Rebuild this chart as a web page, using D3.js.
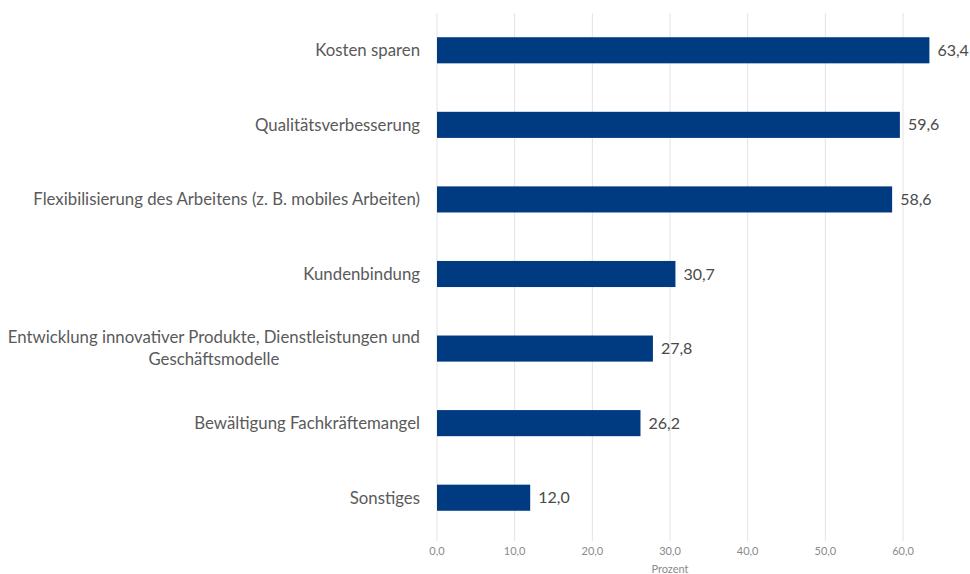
<!DOCTYPE html>
<html>
<head>
<meta charset="utf-8">
<script src="https://cdn.jsdelivr.net/npm/d3@7"></script>
<style>
  body { margin: 0; background: #fff; }
  text { font-family: Lato, "Open Sans", sans-serif; }
</style>
</head>
<body>
<script>
(function() {

    // Gründe / Ziele, Anteil in Prozent
    var categories = [
        "Kosten sparen",
        "Qualitätsverbesserung",
        "Flexibilisierung des Arbeitens (z. B. mobiles Arbeiten)",
        "Kundenbindung",
        "Entwicklung innovativer Produkte, Dienstleistungen und|Geschäftsmodelle",
        "Bewältigung Fachkräftemangel",
        "Sonstiges"
    ];
    var values = [63.4, 59.6, 58.6, 30.7, 27.8, 26.2, 12.0];
    var ticks = [0, 10, 20, 30, 40, 50, 60];

    var width = 970,
        height = 574,
        left = 437,
        top = 13,
        bottom = 535;

    var fmt = function(v) { return v.toFixed(1).replace(".", ","); };

    var svg = d3.select("body")
        .append("svg")
        .attr("width", width)
        .attr("height", height);

    var x = d3.scaleLinear()
        .domain([0, 60])
        .range([left, 903]);

    var y = d3.scaleBand()
        .domain(categories)
        .range([top, bottom])
        .paddingInner(0.65)
        .paddingOuter(0.325);

    // gridlines
    svg.append("g")
        .selectAll("line")
        .data(ticks)
        .enter()
        .append("line")
        .attr("x1", function(d) { return x(d); })
        .attr("x2", function(d) { return x(d); })
        .attr("y1", top)
        .attr("y2", bottom + 6)
        .attr("stroke", "#e3e3e3")
        .attr("stroke-width", 1);

    // tick labels
    svg.append("g")
        .selectAll("text")
        .data(ticks)
        .enter()
        .append("text")
        .attr("x", function(d) { return x(d); })
        .attr("y", 555)
        .attr("text-anchor", "middle")
        .attr("font-size", 11)
        .attr("fill", "#8a8a8a")
        .text(function(d) { return fmt(d); });

    svg.append("text")
        .attr("x", x(30))
        .attr("y", 573)
        .attr("text-anchor", "middle")
        .attr("font-size", 11)
        .attr("fill", "#8a8a8a")
        .text("Prozent");

    // bars
    svg.append("g")
        .selectAll("rect")
        .data(values)
        .enter()
        .append("rect")
        .attr("x", x(0))
        .attr("y", function(d, i) { return y(categories[i]); })
        .attr("width", function(d) { return x(d) - x(0); })
        .attr("height", y.bandwidth())
        .attr("fill", "#003a80");

    // value labels
    svg.append("g")
        .selectAll("text")
        .data(values)
        .enter()
        .append("text")
        .attr("x", function(d) { return x(d) + 8; })
        .attr("y", function(d, i) { return y(categories[i]) + y.bandwidth() / 2; })
        .attr("dy", "0.35em")
        .attr("font-size", 16)
        .attr("fill", "#4a4a4a")
        .text(function(d) { return fmt(d); });

    // category labels, multi-line ones centred under the first line
    categories.forEach(function(c) {
        var lines = c.split("|");
        var cy = y(c) + y.bandwidth() / 2;
        var lh = 22;
        var y0 = cy - (lines.length - 1) * lh / 2;
        var first = svg.append("text")
            .attr("x", 420)
            .attr("y", y0)
            .attr("dy", "0.35em")
            .attr("text-anchor", "end")
            .attr("font-size", 16.8)
            .attr("fill", "#5a5a5a")
            .text(lines[0]);
        var w = first.node().getComputedTextLength();
        for (var k = 1; k < lines.length; k++) {
            svg.append("text")
                .attr("x", 420 - w / 2)
                .attr("y", y0 + k * lh)
                .attr("dy", "0.35em")
                .attr("text-anchor", "middle")
                .attr("font-size", 16.8)
                .attr("fill", "#5a5a5a")
                .text(lines[k]);
        }
    });

})();
</script>
</body>
</html>
